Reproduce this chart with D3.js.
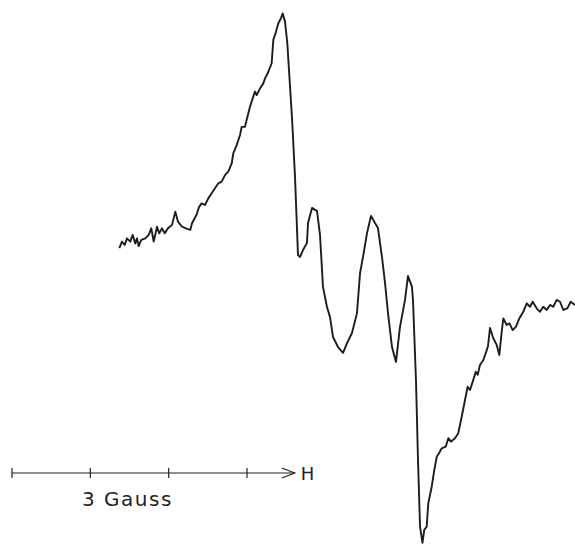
<!DOCTYPE html>
<html>
<head>
<meta charset="utf-8">
<style>
  body { margin: 0; background: #fff; }
  svg { display: block; }
  .trace { fill: none; stroke: #1c1c1c; stroke-width: 1.9; stroke-linejoin: round; }
  .bar line, .bar path { stroke: #222; stroke-width: 1.2; fill: none; }
  .lbl { font-family: "DejaVu Sans", sans-serif; fill: #222; }
</style>
<script src="https://cdnjs.cloudflare.com/ajax/libs/d3/7.8.5/d3.min.js"></script>
</head>
<body>
<svg width="575" height="545"></svg>
<script>
// magnetic field (Gauss, relative to left end of the scale bar)
let field = [1.370, 1.404, 1.439, 1.468, 1.510, 1.541, 1.574, 1.596, 1.617, 1.651,
    1.702, 1.745, 1.778, 1.809, 1.851, 1.880, 1.915, 1.949, 1.991, 2.043,
    2.085, 2.119, 2.170, 2.221, 2.276, 2.298, 2.332, 2.355, 2.387, 2.422,
    2.464, 2.506, 2.549, 2.591, 2.634, 2.677, 2.719, 2.761, 2.805, 2.825,
    2.868, 2.911, 2.932, 2.974, 3.017, 3.038, 3.080, 3.102, 3.124, 3.166,
    3.208, 3.230, 3.264, 3.315, 3.336, 3.370, 3.400, 3.434, 3.456, 3.485,
    3.515, 3.536, 3.574, 3.613, 3.651, 3.677, 3.715, 3.766, 3.779, 3.830,
    3.894, 3.932, 3.970, 4.021, 4.060, 4.098, 4.162, 4.226, 4.277, 4.340,
    4.404, 4.443, 4.481, 4.532, 4.583, 4.634, 4.672, 4.723, 4.762, 4.800,
    4.851, 4.902, 4.953, 5.017, 5.055, 5.106, 5.119, 5.157, 5.183, 5.209,
    5.240, 5.263, 5.294, 5.314, 5.358, 5.391, 5.422, 5.451, 5.486, 5.537,
    5.570, 5.604, 5.655, 5.697, 5.741, 5.783, 5.817, 5.847, 5.889, 5.920,
    5.945, 5.974, 6.017, 6.047, 6.077, 6.102, 6.144, 6.188, 6.221, 6.252,
    6.272, 6.315, 6.349, 6.392, 6.434, 6.476, 6.527, 6.571, 6.613, 6.647,
    6.698, 6.740, 6.783, 6.826, 6.868, 6.910, 6.953, 6.996, 7.038, 7.089,
    7.132, 7.187];
// first-derivative ESR signal (arbitrary units)
let signal = [12.0, 14.5, 13.2, 15.7, 14.5, 17.0, 13.8, 15.7, 12.8, 15.1,
    15.7, 17.0, 19.5, 14.5, 20.1, 17.6, 19.5, 17.6, 19.5, 20.8,
    25.8, 22.0, 20.1, 19.5, 18.9, 21.4, 23.3, 24.5, 27.5, 28.9,
    28.3, 30.8, 32.7, 34.6, 36.5, 37.1, 39.6, 40.9, 44.0, 47.8,
    50.9, 54.7, 57.8, 57.8, 62.9, 65.4, 69.2, 71.1, 69.8, 72.3,
    74.2, 76.1, 78.0, 81.8, 90.6, 93.7, 96.9, 98.8, 100.6, 97.5,
    89.3, 79.2, 61.5, 38.9, 9.4, 8.7, 11.3, 14.0, 21.5, 27.2,
    26.0, 17.0, -2.6, -10.2, -14.0, -21.5, -25.3, -27.5, -23.8, -20.0,
    -12.5, 2.6, 8.7, 17.7, 24.2, 21.5, 19.6, 8.7, -1.1, -12.5,
    -25.3, -30.9, -17.7, -7.5, 1.5, -2.6, -7.5, -37.7, -67.9, -93.1,
    -99.2, -94.3, -93.1, -84.3, -78.0, -71.7, -66.7, -65.4, -63.5, -62.9,
    -59.7, -61.0, -59.7, -57.8, -51.6, -45.3, -40.3, -41.5, -37.7, -34.6,
    -35.8, -32.1, -30.2, -27.7, -24.9, -18.1, -22.0, -24.5, -28.3, -19.5,
    -14.5, -17.0, -16.3, -18.9, -17.6, -14.5, -12.0, -8.8, -10.1, -8.2,
    -10.7, -12.0, -10.1, -11.3, -9.4, -10.1, -7.5, -8.2, -11.3, -10.7,
    -8.2, -9.4];
// scale bar
let barTicks = [0, 1, 2, 3];
let barEnd = 3.61;
let barLabel = "3 Gauss";
let axisLabel = "H";

let svg = d3.select("svg");
let x = d3.scaleLinear().domain([0, 3]).range([12, 247]);
let y = d3.scaleLinear().domain([-100, 100]).range([545, 15]);

let line = d3.line()
    .x((d, i) => x(field[i]))
    .y(d => y(d));

svg.append("path")
    .attr("class", "trace")
    .attr("d", line(signal));

// field scale bar with arrow
let barY = 473;
let bar = svg.append("g").attr("class", "bar");
bar.append("line")
    .attr("x1", x(barTicks[0])).attr("x2", x(barEnd))
    .attr("y1", barY).attr("y2", barY);
bar.selectAll(".tk")
    .data(barTicks)
    .enter().append("line")
        .attr("class", "tk")
        .attr("x1", d => x(d)).attr("x2", d => x(d))
        .attr("y1", barY - 5).attr("y2", barY + 5);
bar.append("path")
    .attr("d", d3.line()([[x(barEnd) - 13, barY - 5], [x(barEnd), barY], [x(barEnd) - 13, barY + 5]]));

svg.append("text")
    .attr("class", "lbl")
    .attr("x", x(barEnd) + 6).attr("y", barY + 6.5)
    .attr("font-size", 18)
    .text(axisLabel);
svg.append("text")
    .attr("class", "lbl")
    .attr("x", 82).attr("y", 506)
    .attr("font-size", 20)
    .attr("letter-spacing", 1.5)
    .text(barLabel);
</script>
</body>
</html>
